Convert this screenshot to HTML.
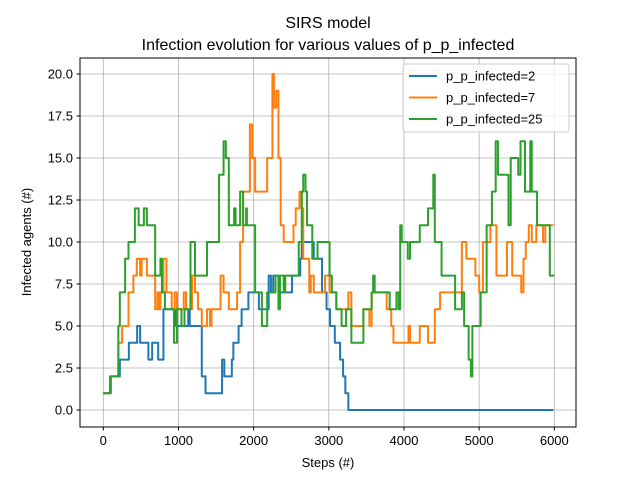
<!DOCTYPE html>
<html><head><meta charset="utf-8"><style>
body{margin:0;background:#fff}
svg{display:block;font-family:"Liberation Sans","DejaVu Sans",sans-serif}
</style></head><body>
<svg id="chart" width="640" height="480">
<rect width="640" height="480" fill="#fff"/>
<text x="328" y="28" font-size="16" text-anchor="middle">SIRS model</text>
<text x="328" y="50" font-size="16" text-anchor="middle">Infection evolution for various values of p_p_infected</text>
<g id="grid"></g><g id="series"></g><g id="ticks"></g>
<rect x="80" y="58" width="496" height="369" fill="none" stroke="#000" stroke-width="1"/>
<text x="328" y="467" font-size="13" text-anchor="middle">Steps (#)</text>
<text transform="translate(31,242) rotate(-90)" font-size="13" text-anchor="middle">Infected agents (#)</text>
<g id="legend">
<rect x="403" y="64" width="166" height="68" fill="#fff" fill-opacity="0.8" stroke="#ccc" rx="3"/>
</g>
</svg>
<script>
const xTicks=[0,1000,2000,3000,4000,5000,6000];
const yTicks=[0,2.5,5,7.5,10,12.5,15,17.5,20];
const seriesNames=["p_p_infected=2","p_p_infected=7","p_p_infected=25"];
const seriesColors=["#1f77b4","#ff7f0e","#2ca02c"];
const blueX=[0,100,220,340,450,490,600,650,730,800,960,1130,1150,1310,1360,1580,1610,1710,1730,1800,1840,1870,1930,2070,2200,2230,2260,2290,2330,2510,2620,2640,2660,2800,2910,2970,3016,3080,3150,3190,3220,3250,3260,5986];
const blueY=[1,2,3,4,5,4,3,4,3,6,5,6,5,2,1,3,2,3,4,5,6,6,7,6,8,7,8,8,7,8,9,10,10,9,7,6,5,4,3,2,1,1,0,0];
const orangeX=[0,90,180,200,250,335,400,445,490,510,580,690,720,740,760,800,840,910,950,980,1050,1070,1100,1180,1220,1260,1310,1380,1420,1440,1470,1560,1600,1670,1780,1820,1860,1890,1950,1980,2020,2070,2180,2250,2270,2300,2330,2360,2400,2440,2530,2560,2610,2640,2660,2680,2740,2760,2800,2840,2950,3010,3100,3260,3300,3460,3540,3570,3770,3830,3860,4060,4080,4100,4210,4320,4410,4480,4520,4770,4830,4950,5000,5050,5100,5150,5230,5370,5440,5560,5590,5620,5660,5700,5760,5850,5880,5990];
const orangeY=[1,2,2,4,5,7,8,9,8,9,8,6,7,6,7,9,7,6,7,6,6,7,6,8,7,6,5,6,5,6,6,8,7,6,7,10,13,13,17,15,13,13,15,20,18,19,15,11,10,10,11,12,13,12,9,9,7,8,7,7,8,7,6,7,5,6,5,7,6,5,4,5,4,4,5,4,6,7,7,10,9,8,7,10,10,11,8,10,8,7,9,10,11,10,11,10,11,11];
const greenX=[0,90,180,200,220,290,335,420,470,540,580,600,690,760,780,820,940,980,1040,1080,1160,1220,1380,1540,1600,1630,1670,1740,1760,1800,1820,1860,1900,1910,2020,2110,2180,2290,2330,2350,2400,2420,2560,2600,2640,2660,2690,2710,2740,2780,2850,2980,3010,3040,3100,3170,3230,3300,3460,3570,3590,3610,3810,3900,3930,3950,3970,4050,4080,4210,4300,4320,4370,4390,4410,4500,4680,4770,4800,4860,4890,4910,4930,5020,5070,5100,5170,5220,5250,5290,5390,5410,5420,5520,5550,5590,5610,5650,5680,5700,5770,5940,6000];
const greenY=[1,2,2,5,7,9,10,12,11,12,11,11,8,9,7,6,4,6,5,6,10,8,10,14,16,15,11,12,11,11,13,11,12,11,7,5,7,8,6,8,7,8,8,10,13,14,13,11,11,9,10,10,8,7,6,5,6,4,6,7,8,7,6,7,6,11,10,9,10,11,11,12,12,14,10,8,6,7,5,3,2,5,5,7,7,11,13,16,14,14,11,11,15,14,16,16,13,13,16,13,11,8,8];
const X0=103.3,XS=0.07517,Y0=410,YS=16.8;
const sx=v=>X0+v*XS, sy=v=>Y0-v*YS;
const NS="http://www.w3.org/2000/svg";
const grid=document.getElementById('grid'),ticks=document.getElementById('ticks'),ser=document.getElementById('series'),leg=document.getElementById('legend');
function mk(tag,attrs,parent){const e=document.createElementNS(NS,tag);for(const k in attrs)e.setAttribute(k,attrs[k]);parent.appendChild(e);return e;}
xTicks.forEach(t=>{const x=sx(t);
 const g=mk('line',{x1:x,x2:x,y1:58,y2:427,stroke:'#b0b0b0','stroke-width':0.8},grid);
 
 
 mk('line',{x1:x,x2:x,y1:427,y2:430.5,stroke:'#000'},ticks);
 const tx=mk('text',{x:x,y:445,'font-size':13,'text-anchor':'middle'},ticks);tx.textContent=t;
 
 
});
yTicks.forEach(t=>{const y=sy(t);
 const g=mk('line',{x1:80,x2:576,y1:y,y2:y,stroke:'#b0b0b0','stroke-width':0.8},grid);
 
 
 mk('line',{x1:76.5,x2:80,y1:y,y2:y,stroke:'#000'},ticks);
 const tx=mk('text',{x:73,y:y+4.5,'font-size':13,'text-anchor':'end'},ticks);tx.textContent=t.toFixed(1);
 
 
});
const data=[[blueX,blueY],[orangeX,orangeY],[greenX,greenY]];
data.forEach((d,i)=>{const [xs,ys]=d;let p='M'+sx(xs[0])+','+sy(ys[0]);
 for(let k=1;k<xs.length;k++){p+=' L'+sx(xs[k])+','+sy(ys[k-1])+' L'+sx(xs[k])+','+sy(ys[k]);}
 const path=mk('path',{d:p,fill:'none',stroke:seriesColors[i],'stroke-width':2,'stroke-linejoin':'round'},ser);
 
 
 const ly=76+i*21.5;
 const ll=mk('line',{x1:409,x2:437,y1:ly,y2:ly,stroke:seriesColors[i],'stroke-width':2},leg);
 
 
 const lt=mk('text',{x:446,y:ly+4.5,'font-size':13},leg);lt.textContent=seriesNames[i];
 
 
});
</script>
</body></html>
